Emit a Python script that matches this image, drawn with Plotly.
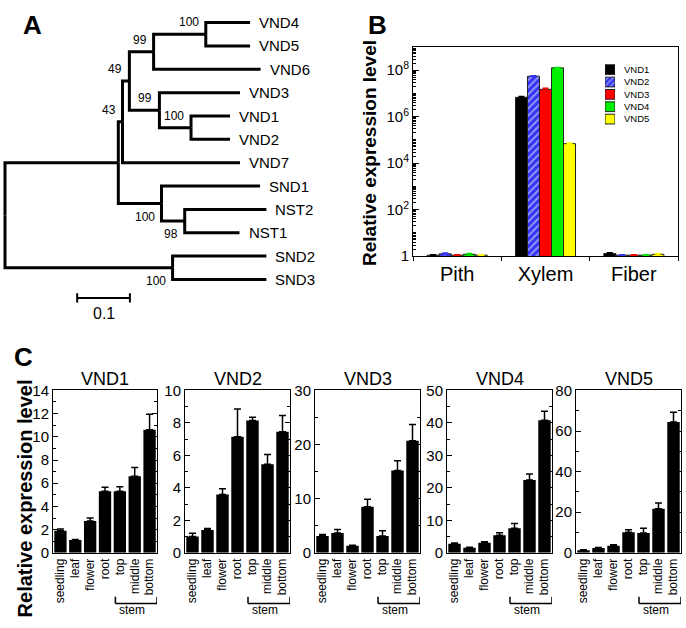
import plotly.graph_objects as go

W, H = 686, 628
FONT = "Liberation Sans, Arial, Helvetica, sans-serif"

# ---------------- DATA ----------------
# Panel A: phylogenetic tree (name, branch length, children, bootstrap)
tree = ("", 0.0, [
    ("", 0.215, [
        ("", 0.008, [
            ("", 0.013, [
                ("", 0.046, [
                    ("", 0.099, [("VND4", 0.084), ("VND5", 0.084)], 100),
                    ("VND6", 0.203),
                ], 99),
                ("", 0.057, [
                    ("VND3", 0.153),
                    ("", 0.060, [("VND1", 0.074), ("VND2", 0.074)], 100),
                ], 99),
            ], 49),
            ("VND7", 0.223),
        ], 43),
        ("", 0.082, [
            ("SND1", 0.187),
            ("", 0.044, [("NST2", 0.155), ("NST1", 0.104)], 98),
        ], 100),
    ], None),
    ("", 0.318, [("SND2", 0.178), ("SND3", 0.178)], 100),
], None)
scale_bar_length = 0.1
scale_bar_label = "0.1"

# Panel B
regions = ["Pith", "Xylem", "Fiber"]
genes_b = ["VND1", "VND2", "VND3", "VND4", "VND5"]
vnd1_b = [1.1, 6.8e6, 1.3]
vnd2_b = [1.25, 5.5e7, 1.1]
vnd3_b = [1.1, 1.5e7, 1.1]
vnd4_b = [1.2, 1.26e8, 1.1]
vnd5_b = [1.1, 6.9e4, 1.2]
vnd1_b_err = [0.05, 5e5, 0.1]
vnd2_b_err = [0.1, 2e6, 0.05]
vnd3_b_err = [0.05, 1.5e6, 0.05]
vnd4_b_err = [0.1, 5e6, 0.05]
vnd5_b_err = [0.05, 4e3, 0.1]
b_tickvals = [1, 1e2, 1e4, 1e6, 1e8]
b_ticktext = ["1", "10<sup>2</sup>", "10<sup>4</sup>", "10<sup>6</sup>", "10<sup>8</sup>"]

# Panel C
tissues = ["seedling", "leaf", "flower", "root", "top", "middle", "bottom"]
genes_c = ["VND1", "VND2", "VND3", "VND4", "VND5"]
vnd1_c = [1.9, 1.1, 2.75, 5.3, 5.3, 6.6, 10.6]
vnd2_c = [1.0, 1.4, 3.6, 7.15, 8.15, 5.45, 7.45]
vnd3_c = [3.1, 3.65, 1.3, 8.5, 3.1, 15.2, 20.7]
vnd4_c = [2.8, 1.6, 3.1, 5.4, 7.6, 22.4, 40.8]
vnd5_c = [1.3, 2.4, 3.5, 10.1, 9.8, 21.7, 64.4]
vnd1_c_err = [0.15, 0.05, 0.25, 0.35, 0.4, 0.75, 1.35]
vnd2_c_err = [0.2, 0.1, 0.35, 1.7, 0.2, 0.6, 1.0]
vnd3_c_err = [0.3, 0.65, 0.12, 1.4, 1.0, 1.8, 3.0]
vnd4_c_err = [0.2, 0.1, 0.3, 0.8, 1.4, 1.9, 2.8]
vnd5_c_err = [0.2, 0.2, 0.5, 1.3, 2.3, 2.9, 4.8]
c_ymax = [14, 10, 30, 50, 80]
c_dtick = [2, 2, 10, 10, 20]
c_minor = [1, 1, 5, 5, 10]
stem_label = "stem"

# ---------------- helpers ----------------
def fx(px):
    return px / W

def fy(px):
    return 1 - px / H

def dom_x(a, b):
    return [fx(a), fx(b)]

def dom_y(top, bottom):
    return [fy(bottom), fy(top)]

fig = go.Figure()
annotations = []
shapes = []

# ---------------- Panel A ----------------
leaf_counter = [0]
line_x, line_y = [], []
nodes_info = []  # (x, y, bootstrap)


def layout_tree(node, x0):
    name, bl = node[0], node[1]
    x = x0 + bl
    if len(node) == 2:
        y = leaf_counter[0]
        leaf_counter[0] += 1
        annotations.append(dict(x=x, y=y, xref="x", yref="y", text=name, showarrow=False,
                                xanchor="left", yanchor="middle", xshift=7,
                                font=dict(size=15, family=FONT, color="black")))
        return x, y
    kids = [layout_tree(c, x) for c in node[2]]
    y = (kids[0][1] + kids[-1][1]) / 2
    for cx, cy in kids:
        line_x.extend([x, x, cx, None])
        line_y.extend([y, cy, cy, None])
    if node[3] is not None:
        nodes_info.append((x, y, node[3]))
    return x, y


layout_tree(tree, 0.0)
n_leaves = leaf_counter[0]

fig.add_trace(go.Scatter(x=line_x, y=line_y, mode="lines",
                         line=dict(color="black", width=3),
                         xaxis="x", yaxis="y", showlegend=False, hoverinfo="skip"))

for (nx, ny, bs) in nodes_info:
    above = ny < 6.5
    annotations.append(dict(x=nx, y=ny, xref="x", yref="y", text=str(bs), showarrow=False,
                            xanchor="right", yanchor="middle", xshift=-5,
                            yshift=12 if above else -13,
                            font=dict(size=12, family=FONT, color="black")))

# scale bar
sb_x0 = 0.137
sb_y = n_leaves - 0.21
fig.add_trace(go.Scatter(
    x=[sb_x0, sb_x0 + scale_bar_length, None, sb_x0, sb_x0, None,
       sb_x0 + scale_bar_length, sb_x0 + scale_bar_length],
    y=[sb_y, sb_y, None, sb_y - 0.2, sb_y + 0.2, None, sb_y - 0.2, sb_y + 0.2],
    mode="lines", line=dict(color="black", width=2),
    xaxis="x", yaxis="y", showlegend=False, hoverinfo="skip"))
annotations.append(dict(x=sb_x0 + scale_bar_length / 2, y=sb_y + 0.67, xref="x", yref="y",
                        text=scale_bar_label, showarrow=False, xanchor="center",
                        yanchor="middle", font=dict(size=16, family=FONT, color="black")))

fig.update_layout(
    xaxis=dict(domain=dom_x(0, 330), range=[-5 / 527, 325 / 527], visible=False, fixedrange=True),
    yaxis=dict(domain=dom_y(0, 320), range=[(320 - 14) / 24, -14 / 24], visible=False,
               anchor="x", fixedrange=True),
)

# ---------------- Panel B ----------------
b_colors = ["#000000", "#3434f4", "#ff0000", "#00ee00", "#ffff00"]
b_vals = [vnd1_b, vnd2_b, vnd3_b, vnd4_b, vnd5_b]
b_errs = [vnd1_b_err, vnd2_b_err, vnd3_b_err, vnd4_b_err, vnd5_b_err]
b_patterns = ["", "/", "", "", ""]
for g, vals, errs, col, pat in zip(genes_b, b_vals, b_errs, b_colors, b_patterns):
    marker = dict(color=col, line=dict(color="#222222", width=1))
    if pat:
        marker["pattern"] = dict(shape=pat, fgcolor="white", fillmode="overlay",
                                 size=5, solidity=0.35)
    fig.add_trace(go.Bar(
        x=regions, y=vals, name=g, marker=marker,
        error_y=dict(type="data", array=errs, color=col if g != "VND1" else "#000000",
                     thickness=1.5, width=3),
        xaxis="x2", yaxis="y2", showlegend=False))

minor_vals = []
for k in range(0, 9):
    for m in range(2, 10):
        minor_vals.append(m * 10 ** k)
minor_vals += [10 ** k for k in (1, 3, 5, 7, 9)]

fig.update_layout(
    xaxis2=dict(domain=dom_x(413, 678), anchor="y2", showline=True, linecolor="black",
                linewidth=1, mirror=True, ticks="outside", ticklen=4, tickson="boundaries",
                tickcolor="black", tickfont=dict(size=20, family=FONT, color="black"),
                showgrid=False, fixedrange=True),
    yaxis2=dict(domain=dom_y(39, 254), anchor="x2", type="log", range=[0, 9],
                tickmode="array", tickvals=b_tickvals, ticktext=b_ticktext,
                ticks="inside", ticklen=6, tickcolor="black", showline=True,
                linecolor="black", linewidth=1, mirror=True, showgrid=False,
                tickfont=dict(size=15, family=FONT, color="black"),
                minor=dict(tickmode="array", tickvals=minor_vals, ticks="inside",
                           ticklen=3, tickcolor="black", showgrid=False),
                fixedrange=True),
)

# legend swatches for panel B (drawn as a tiny bar chart)
fig.add_trace(go.Bar(
    y=genes_b, x=[1] * len(genes_b), orientation="h", width=0.79,
    marker=dict(color=b_colors, line=dict(color="#222222", width=1),
                pattern=dict(shape=b_patterns, fgcolor="white", fillmode="overlay",
                             size=4, solidity=0.35)),
    xaxis="x3", yaxis="y3", showlegend=False, hoverinfo="skip"))
fig.update_layout(
    xaxis3=dict(domain=dom_x(605, 615), range=[0, 1], visible=False, anchor="y3",
                fixedrange=True),
    yaxis3=dict(domain=dom_y(56, 119.5), anchor="x3", type="category", autorange="reversed",
                side="right", showline=False, ticks="", showgrid=False,
                ticklabelstandoff=8,
                tickfont=dict(size=9.5, family=FONT, color="black"), fixedrange=True),
)

# ---------------- Panel C ----------------
c_vals = [vnd1_c, vnd2_c, vnd3_c, vnd4_c, vnd5_c]
c_errs = [vnd1_c_err, vnd2_c_err, vnd3_c_err, vnd4_c_err, vnd5_c_err]
c_xdoms = [(53, 157), (185, 290), (315, 420), (447, 552), (576, 681)]
c_top, c_bot = 392, 559
for i, (g, vals, errs) in enumerate(zip(genes_c, c_vals, c_errs)):
    n = i + 4
    xa, ya = f"x{n}", f"y{n}"
    fig.add_trace(go.Bar(
        x=tissues, y=vals, width=0.83, offset=-0.415,
        marker=dict(color="black", line=dict(width=0)),
        error_y=dict(type="data", symmetric=False, array=errs, arrayminus=[0] * len(errs),
                     color="black", thickness=1.5, width=3.5),
        xaxis=xa, yaxis=ya, showlegend=False))
    fig.update_layout(**{
        f"xaxis{n}": dict(domain=dom_x(*c_xdoms[i]), anchor=ya, type="category",
                          range=[-0.5, 6.5], showline=True, linecolor="black", linewidth=1,
                          mirror=True, ticks="", tickangle=-90, showgrid=False,
                          tickfont=dict(size=12, family=FONT, color="black"),
                          fixedrange=True),
        f"yaxis{n}": dict(domain=dom_y(c_top, c_bot), anchor=xa, range=[0, c_ymax[i]],
                          dtick=c_dtick[i], tick0=0, ticks="inside", ticklen=5,
                          tickcolor="black", showline=True, linecolor="black", linewidth=1,
                          mirror="allticks", showgrid=False, zeroline=False,
                          tickfont=dict(size=15, family=FONT, color="black"),
                          minor=dict(dtick=c_minor[i], tick0=0, ticks="inside", ticklen=3,
                                     tickcolor="black", showgrid=False),
                          fixedrange=True),
    })
    # gene title
    annotations.append(dict(x=fx((c_xdoms[i][0] + c_xdoms[i][1]) / 2), y=fy(380),
                            xref="paper", yref="paper", text=g, showarrow=False,
                            xanchor="center", yanchor="middle",
                            font=dict(size=18, family=FONT, color="black")))
    # stem bracket
    y_low, y_high = fy(611), fy(604)
    for (x0, y0, x1, y1) in [(3.7, y_high, 3.7, y_low), (3.7, y_low, 6.5, y_low),
                             (6.5, y_low, 6.5, y_high)]:
        shapes.append(dict(type="line", xref=xa, yref="paper", x0=x0, x1=x1, y0=y0, y1=y1,
                           line=dict(color="black", width=1.5)))
    annotations.append(dict(x=4.85, y=fy(618), xref=xa, yref="paper", text=stem_label,
                            showarrow=False, xanchor="center", yanchor="middle",
                            font=dict(size=12, family=FONT, color="black")))

# ---------------- Labels ----------------
for letter, (lx, ly) in {"A": (32, 16), "B": (378, 16), "C": (23, 358)}.items():
    annotations.append(dict(x=fx(lx), y=fy(ly), xref="paper", yref="paper",
                            text=f"<b>{letter}</b>", showarrow=False, xanchor="center",
                            yanchor="middle", font=dict(size=26, family=FONT, color="black")))

annotations.append(dict(x=fx(370), y=fy(148), xref="paper", yref="paper",
                        text="<b>Relative expression level</b>", textangle=-90,
                        showarrow=False, xanchor="center", yanchor="middle",
                        font=dict(size=19, family=FONT, color="black")))
annotations.append(dict(x=fx(25), y=fy(503), xref="paper", yref="paper",
                        text="<b>Relative expression level</b>", textangle=-90,
                        showarrow=False, xanchor="center", yanchor="middle",
                        font=dict(size=20, family=FONT, color="black")))

fig.update_layout(
    width=W, height=H, margin=dict(l=0, r=0, t=0, b=0),
    paper_bgcolor="white", plot_bgcolor="white",
    barmode="group", bargap=0.32, bargroupgap=0,
    annotations=annotations, shapes=shapes,
    font=dict(family=FONT, color="black"),
)

fig.write_html("out.html", config={"displayModeBar": False},
               post_script="document.body.style.margin='0';document.body.style.overflow='hidden';")
